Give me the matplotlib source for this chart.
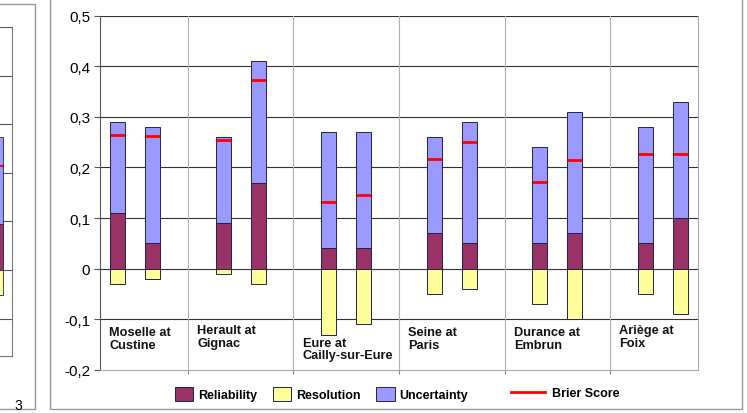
import matplotlib
matplotlib.use('Agg')
import matplotlib.pyplot as plt
from matplotlib.patches import Patch
from matplotlib.lines import Line2D

plt.rcParams['font.family'] = ['Liberation Sans', 'DejaVu Sans']

# --- data (two forecasts per station) ---
stations = ['Moselle at\nCustine', 'Herault at\nGignac', 'Eure at\nCailly-sur-Eure',
            'Seine at\nParis', 'Durance at\nEmbrun', 'Ariège at\nFoix']
reliability = [0.11, 0.05, 0.09, 0.17, 0.04, 0.04, 0.07, 0.05, 0.05, 0.07, 0.05, 0.10]
uncertainty = [0.18, 0.23, 0.17, 0.24, 0.23, 0.23, 0.19, 0.24, 0.19, 0.24, 0.23, 0.23]
resolution = [-0.03, -0.02, -0.01, -0.03, -0.13, -0.11, -0.05, -0.04, -0.07, -0.10, -0.05, -0.09]
brier = [0.264, 0.262, 0.255, 0.373, 0.132, 0.146, 0.217, 0.25, 0.171, 0.215, 0.226, 0.226]
yticks = [-0.2, -0.1, 0, 0.1, 0.2, 0.3, 0.4, 0.5]

# bit of the neighbouring chart cut off on the left
prev_rel = [0.094]
prev_unc = [0.179]
prev_res = [-0.051]
prev_brier = [0.214]

c_rel = '#993366'
c_res = '#FFFF99'
c_unc = '#9999FF'
c_edge = '#222244'

W, H = 747, 414
fig = plt.figure(figsize=(W / 100, H / 100), dpi=100)

# frames (like pasted excel charts)
gray = '#999999'
fig.add_artist(Line2D([50 / W, 50 / W, 742 / W, 742 / W], [1, 1 - 410 / H, 1 - 410 / H, 1],
                      color=gray, lw=1))
fig.add_artist(Line2D([0, 35 / W, 35 / W, 0], [1 - 5 / H, 1 - 5 / H, 1 - 410 / H, 1 - 410 / H],
                      color=gray, lw=1))
fig.text(14 / W, 1 - 406 / H, '3', fontsize=10, va='center', ha='left')

# left fragment
ax0 = fig.add_axes([0, 1 - 357 / H, 12 / W, (357 - 28) / H])
ax0.bar([-1.5], prev_rel, width=5, color=c_rel, edgecolor=c_edge, lw=0.6, zorder=3)
ax0.bar([-1.5], prev_unc, bottom=prev_rel, width=5, color=c_unc, edgecolor=c_edge, lw=0.6, zorder=3)
ax0.bar([-1.5], prev_res, width=5, color=c_res, edgecolor=c_edge, lw=0.6, zorder=3)
ax0.hlines(prev_brier, -4, 1, color='red', lw=1.5, zorder=4)
ax0.set_xlim(0, 4)
ax0.set_ylim(-0.177, 0.5)
for y in [-0.1, 0, 0.1, 0.2, 0.3, 0.4, 0.5]:
    ax0.axhline(y, color='#555555', lw=0.8, zorder=1)
ax0.set_xticks([])
ax0.set_yticks([])
for s in ax0.spines.values():
    s.set_visible(False)
ax0.spines['right'].set_visible(True)
ax0.spines['right'].set_color('#777777')
ax0.spines['bottom'].set_visible(True)
ax0.spines['bottom'].set_color('#777777')

# main chart
ax = fig.add_axes([100 / W, 1 - 371 / H, 598 / W, (371 - 16.5) / H])
x = []
for i in range(len(stations)):
    x += [3 * i, 3 * i + 1]
bw = 0.42

ax.bar(x, reliability, width=bw, color=c_rel, edgecolor=c_edge, lw=0.7, zorder=3)
ax.bar(x, uncertainty, bottom=reliability, width=bw, color=c_unc, edgecolor=c_edge, lw=0.7, zorder=3)
ax.bar(x, resolution, width=bw, color=c_res, edgecolor=c_edge, lw=0.7, zorder=3)
ax.hlines(brier, [v - bw / 2 for v in x], [v + bw / 2 for v in x], color='red', lw=2, zorder=4)

ax.set_xlim(-0.5, 16.5)
ax.set_ylim(-0.2, 0.5)
ax.set_yticks(yticks)
ax.set_yticklabels([f'{v:.1f}'.replace('.', ',') if v != 0 else '0' for v in yticks], fontsize=11)
for y in yticks[1:]:
    ax.axhline(y, color='#333333', lw=0.8, zorder=1)

sep = [3 * i + 2 for i in range(len(stations) - 1)]
ax.set_xticks(sep)
ax.set_xticklabels([])
for v in sep:
    ax.axvline(v, color='#b0b0b0', lw=0.8, zorder=1)
ax.tick_params(axis='x', length=3, color='#888888')
ax.tick_params(axis='y', length=4, color='#555555', pad=3)

ax.spines['top'].set_visible(False)
ax.spines['left'].set_color('#555555')
ax.spines['right'].set_color('#aaaaaa')
ax.spines['bottom'].set_color('#aaaaaa')

edges = [-0.5] + sep
label_y = [-0.114, -0.110, -0.134, -0.114, -0.114, -0.110]
for e, name, ly in zip(edges, stations, label_y):
    ax.text(e + 0.26, ly, name, fontsize=9.2, fontweight='bold', color='#111111',
            ha='left', va='top', linespacing=1.1, zorder=5)

# legend
patch_handles = [Patch(facecolor=c_rel, edgecolor=c_edge, lw=0.7),
                 Patch(facecolor=c_res, edgecolor=c_edge, lw=0.7),
                 Patch(facecolor=c_unc, edgecolor=c_edge, lw=0.7)]
leg_font = {'size': 9, 'weight': 'bold'}
fig.legend(patch_handles, ['Reliability', 'Resolution', 'Uncertainty'], ncol=3,
           loc='center left', bbox_to_anchor=(164 / W, 1 - 395 / H), frameon=False,
           prop=leg_font, handlelength=1.45, handleheight=1.45, handletextpad=0.4,
           columnspacing=1.25)
fig.legend([Line2D([], [], color='red', lw=2)], ['Brier Score'],
           loc='center left', bbox_to_anchor=(500 / W, 1 - 394 / H), frameon=False,
           prop=leg_font, handlelength=2.7, handletextpad=0.6)

fig.savefig('out.png', dpi=100)
